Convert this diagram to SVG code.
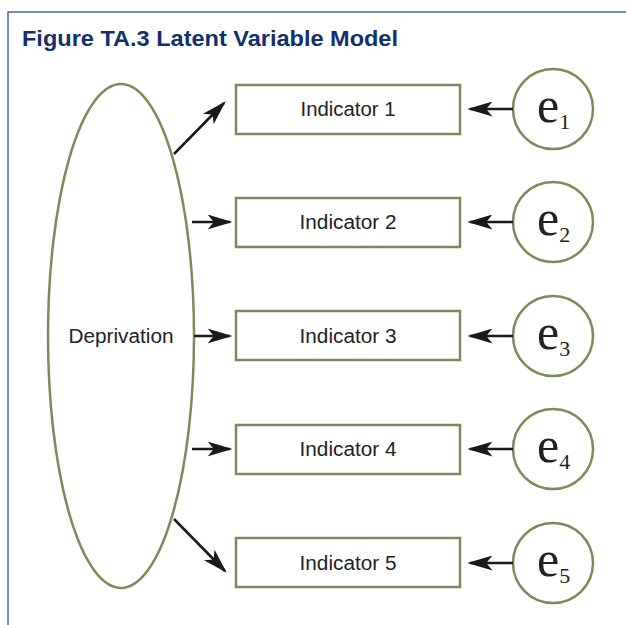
<svg xmlns="http://www.w3.org/2000/svg" width="626" height="625" viewBox="0 0 626 625">
<style>
.frame{fill:none;stroke:#4a6aa8;stroke-width:1.5}
.title{font-family:"Liberation Sans",Arial,sans-serif;font-weight:bold;font-size:22.5px;fill:#13306b}
.shape{fill:#fff;stroke:#7b8c5c;stroke-width:2.5}
.lbl{font-family:"Liberation Sans",Arial,sans-serif;font-size:20px;fill:#222;text-anchor:middle}
.e{font-family:"Liberation Serif","Times New Roman",serif;font-size:50px;fill:#222}
.sub{font-size:22px}
.conn line{stroke:#1a1a1a;stroke-width:2.5;marker-end:url(#ah)}
</style>
<defs>
<marker id="ah" markerWidth="10" markerHeight="6" refX="9" refY="3" orient="auto" markerUnits="strokeWidth">
<path d="M0,0 L10,3 L0,6 L2.5,3 Z" fill="#1a1a1a"/>
</marker>
</defs>
<rect width="626" height="625" fill="#fff"/>
<path class="frame" d="M8,625 V12 H626"/>
<text class="title" x="22" y="46" textLength="376" lengthAdjust="spacingAndGlyphs">Figure TA.3 Latent Variable Model</text>

<g id="deprivation">
<ellipse class="shape" cx="121" cy="336" rx="73" ry="252"/>
<text class="lbl" x="121" y="343" textLength="105" lengthAdjust="spacingAndGlyphs">Deprivation</text>
</g>

<g id="ind1"><rect class="shape" x="236" y="85" width="224" height="49"/><text class="lbl" x="348" y="116" textLength="95" lengthAdjust="spacingAndGlyphs">Indicator 1</text></g>
<g id="ind2"><rect class="shape" x="236" y="198" width="224" height="49"/><text class="lbl" x="348" y="229" textLength="97" lengthAdjust="spacingAndGlyphs">Indicator 2</text></g>
<g id="ind3"><rect class="shape" x="236" y="311" width="224" height="49"/><text class="lbl" x="348" y="343" textLength="97" lengthAdjust="spacingAndGlyphs">Indicator 3</text></g>
<g id="ind4"><rect class="shape" x="236" y="425" width="224" height="49"/><text class="lbl" x="348" y="456" textLength="97" lengthAdjust="spacingAndGlyphs">Indicator 4</text></g>
<g id="ind5"><rect class="shape" x="236" y="538" width="224" height="49"/><text class="lbl" x="348" y="570" textLength="97" lengthAdjust="spacingAndGlyphs">Indicator 5</text></g>

<g id="e1"><circle class="shape" cx="553" cy="109" r="40"/><text class="e" x="537" y="122">e<tspan class="sub" dy="7">1</tspan></text></g>
<g id="e2"><circle class="shape" cx="553" cy="222" r="40"/><text class="e" x="537" y="235">e<tspan class="sub" dy="7">2</tspan></text></g>
<g id="e3"><circle class="shape" cx="553" cy="336" r="40"/><text class="e" x="537" y="349">e<tspan class="sub" dy="7">3</tspan></text></g>
<g id="e4"><circle class="shape" cx="553" cy="449" r="40"/><text class="e" x="537" y="462">e<tspan class="sub" dy="7">4</tspan></text></g>
<g id="e5"><circle class="shape" cx="553" cy="563" r="40"/><text class="e" x="537" y="576">e<tspan class="sub" dy="7">5</tspan></text></g>

<g class="conn" id="connectors">
<line x1="174" y1="154" x2="224" y2="103"/>
<line x1="192" y1="222" x2="230" y2="222"/>
<line x1="194" y1="336" x2="230" y2="336"/>
<line x1="192" y1="449" x2="230" y2="449"/>
<line x1="174" y1="519" x2="225" y2="571"/>
<line x1="513" y1="109" x2="470" y2="109"/>
<line x1="513" y1="222" x2="470" y2="222"/>
<line x1="513" y1="336" x2="470" y2="336"/>
<line x1="513" y1="449" x2="470" y2="449"/>
<line x1="513" y1="563" x2="470" y2="563"/>
</g>
</svg>
